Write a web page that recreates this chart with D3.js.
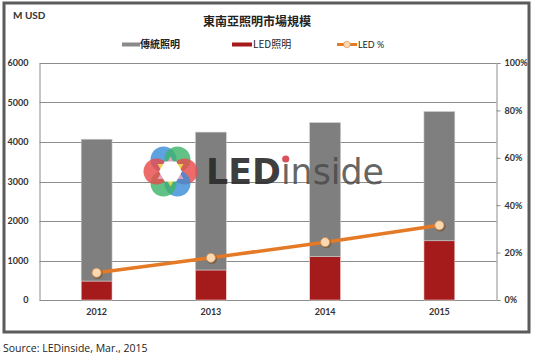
<!DOCTYPE html>
<html><head><meta charset="utf-8">
<script src="https://cdn.jsdelivr.net/npm/d3@7"></script>
<style>
html,body{margin:0;padding:0;background:#fff;}
svg{display:block;}
</style></head>
<body>
<svg id="c" width="536" height="356"></svg>
<script>
const years = ["2012", "2013", "2014", "2015"];
const traditional = [3590, 3490, 3390, 3270];
const ledLighting = [480, 760, 1100, 1500];
const ledShare = [11.5, 17.8, 24.4, 31.5];
const leftTicks = [0, 1000, 2000, 3000, 4000, 5000, 6000];
const rightTicks = [0, 20, 40, 60, 80, 100];
const title = "東南亞照明市場規模";
const seriesNames = ["傳統照明", "LED照明", "LED %"];

const svg = d3.select("#c");
const latin = "Lato, 'Open Sans', sans-serif";
const cjk = "'Noto Sans CJK TC', 'Noto Sans CJK SC', sans-serif";

const L = 39.5, R = 496.5, T = 63, B = 300;
const x = d3.scaleBand().domain(years).range([L, R]).paddingInner(0.73).paddingOuter(0.365);
const y = d3.scaleLinear().domain([0, 6000]).range([B, T]);
const y2 = d3.scaleLinear().domain([0, 100]).range([B, T]);

// frame
svg.append("rect").attr("x", 4).attr("y", 3).attr("width", 525).attr("height", 329)
  .attr("fill", "#fff").attr("stroke", "#5b5b5b").attr("stroke-width", 3);

// gridlines
svg.append("g").selectAll("line").data(leftTicks.filter(d => d > 0)).join("line")
  .attr("x1", L).attr("x2", R).attr("y1", d => Math.round(y(d)) + 0.5).attr("y2", d => Math.round(y(d)) + 0.5)
  .attr("stroke", "#8c8c8c").attr("stroke-width", 1);

// left axis
const gl = svg.append("g").attr("transform", `translate(${L},0)`)
  .call(d3.axisLeft(y).tickValues(leftTicks).tickSize(0).tickPadding(11).tickFormat(d3.format("d")));
gl.select(".domain").attr("stroke", "#8c8c8c");
gl.selectAll("text").attr("font-family", latin).attr("font-weight", "bold").attr("font-size", 9).attr("fill", "#333");

// right axis
const gr = svg.append("g").attr("transform", `translate(${R},0)`)
  .call(d3.axisRight(y2).tickValues(rightTicks).tickSize(4).tickPadding(4).tickFormat(d => d + "%"));
gr.select(".domain").attr("stroke", "#8c8c8c");
gr.selectAll(".tick line").attr("stroke", "#8c8c8c");
gr.selectAll("text").attr("font-family", latin).attr("font-weight", "bold").attr("font-size", 9).attr("fill", "#333");

// bottom axis baseline + labels
const gb = svg.append("g").attr("transform", `translate(0,${B})`)
  .call(d3.axisBottom(x).tickSize(0).tickPadding(9));
gb.select(".domain").attr("stroke", "#8c8c8c").attr("d", `M${L},0.5H${R}`);
gb.selectAll("text").attr("font-family", latin).attr("font-weight", "bold").attr("font-size", 9).attr("fill", "#333");

// stacked bars
const stackData = years.map((yr, i) => ({year: yr, led: ledLighting[i], trad: traditional[i]}));
const stack = d3.stack().keys(["led", "trad"])(stackData);
const colors = {led: "#a51b1b", trad: "#7f7f7f"};
const strokes = {led: "#f3d0d0", trad: "#c8c8c8"};
svg.append("g").selectAll("g").data(stack).join("g")
  .attr("fill", s => colors[s.key]).attr("stroke", s => strokes[s.key])
  .selectAll("rect").data(s => s).join("rect")
  .attr("x", d => x(d.data.year)).attr("width", x.bandwidth())
  .attr("y", d => y(d[1])).attr("height", d => y(d[0]) - y(d[1]))
  .attr("stroke-width", 0.6);

// watermark logo
const logo = svg.append("g");
const fc = [170.5, 171.5];
const petals = [
  {a: -120, c: "#3a8fd8"}, {a: -60, c: "#3fb36a"}, {a: 0, c: "#e84c4c"},
  {a: 60, c: "#3a8fd8"}, {a: 120, c: "#3fb36a"}, {a: 180, c: "#e84c4c"}
];
logo.selectAll("circle.p").data(petals).join("circle").attr("class", "p")
  .attr("cx", d => fc[0] + 14 * Math.cos(d.a * Math.PI / 180))
  .attr("cy", d => fc[1] + 14 * Math.sin(d.a * Math.PI / 180))
  .attr("r", 13).attr("fill", d => d.c).attr("fill-opacity", 0.82);
const tri1 = d3.range(3).map(k => [fc[0] + 15 * Math.cos((k * 120 - 30) * Math.PI / 180), fc[1] + 15 * Math.sin((k * 120 - 30) * Math.PI / 180)]);
const tri2 = d3.range(3).map(k => [fc[0] + 15 * Math.cos((k * 120 + 30) * Math.PI / 180), fc[1] + 15 * Math.sin((k * 120 + 30) * Math.PI / 180)]);
logo.append("polygon").attr("points", tri1.join(" ")).attr("fill", "#f7e04a").attr("fill-opacity", 0.85);
logo.append("polygon").attr("points", tri2.join(" ")).attr("fill", "#f0a8c8").attr("fill-opacity", 0.85);
const hex = d3.range(6).map(k => [fc[0] + 11.5 * Math.cos((k * 60) * Math.PI / 180), fc[1] + 11.5 * Math.sin((k * 60) * Math.PI / 180)]);
logo.append("polygon").attr("points", hex.join(" ")).attr("fill", "#fff");
logo.append("circle").attr("cx", fc[0]).attr("cy", fc[1]).attr("r", 9.5).attr("fill", "#fff");

const lt = logo.append("text").attr("x", 206).attr("y", 184)
  .attr("font-family", "'DejaVu Sans', sans-serif").attr("font-size", 35);
lt.append("tspan").attr("font-weight", "bold").attr("fill", "#2b2b2b").attr("fill-opacity", 0.92).text("LED");
lt.append("tspan").attr("fill", "#4a4a4a").attr("fill-opacity", 0.85).attr("font-weight", "normal").text("ınside");
lt.attr("textLength", 178).attr("lengthAdjust", "spacingAndGlyphs");
try {
  const n = lt.node();
  const p0 = n.getStartPositionOfChar(3), e0 = n.getEndPositionOfChar(3);
  logo.append("circle").attr("cx", (p0.x + e0.x) / 2).attr("cy", 159).attr("r", 3.6).attr("fill", "#d9525a");
} catch (e) {}

// line
const lineData = years.map((yr, i) => [x(yr) + x.bandwidth() / 2, y2(ledShare[i])]);
svg.append("path").attr("d", d3.line()(lineData)).attr("fill", "none")
  .attr("stroke", "#e57a26").attr("stroke-width", 3.5);
svg.append("g").selectAll("circle").data(lineData).join("circle")
  .attr("cx", d => d[0] + 1).attr("cy", d => d[1] + 1).attr("r", 5.2).attr("fill", "#6b4a2a").attr("fill-opacity", 0.55);
svg.append("g").selectAll("circle").data(lineData).join("circle")
  .attr("cx", d => d[0]).attr("cy", d => d[1]).attr("r", 4.6)
  .attr("fill", "#fbd8b0").attr("stroke", "#c98a55").attr("stroke-width", 0.8);

// title & unit
svg.append("text").attr("x", 257).attr("y", 26).attr("text-anchor", "middle")
  .attr("font-family", cjk).attr("font-weight", "bold").attr("font-size", 12).attr("fill", "#222").text(title);
svg.append("text").attr("x", 13).attr("y", 19)
  .attr("font-family", latin).attr("font-size", 10).attr("font-weight", "bold").attr("fill", "#333").text("M USD");

// legend
const lg = svg.append("g");
lg.append("rect").attr("x", 122).attr("y", 42.5).attr("width", 18).attr("height", 4).attr("fill", "#8a8a8a");
lg.append("text").attr("x", 140).attr("y", 48).attr("font-family", cjk).attr("font-weight", "bold")
  .attr("font-size", 10).attr("fill", "#222").text(seriesNames[0]);
lg.append("rect").attr("x", 232).attr("y", 42.5).attr("width", 20).attr("height", 4).attr("fill", "#a51b1b");
lg.append("text").attr("x", 253).attr("y", 48).attr("font-family", cjk)
  .attr("font-size", 10).attr("fill", "#222").text(seriesNames[1]);
lg.append("line").attr("x1", 337).attr("x2", 357).attr("y1", 44.5).attr("y2", 44.5)
  .attr("stroke", "#e57a26").attr("stroke-width", 3);
lg.append("circle").attr("cx", 347).attr("cy", 44.5).attr("r", 3.3).attr("fill", "#fbd8b0").attr("stroke", "#c98a55").attr("stroke-width", 0.6);
lg.append("text").attr("x", 358).attr("y", 48).attr("font-family", latin)
  .attr("font-size", 9).attr("fill", "#222").text(seriesNames[2]);

// source
svg.append("text").attr("x", 3).attr("y", 352).attr("font-family", "'Open Sans', sans-serif")
  .attr("font-size", 10.5).attr("fill", "#222").text("Source: LEDinside, Mar., 2015");
</script>
</body></html>
